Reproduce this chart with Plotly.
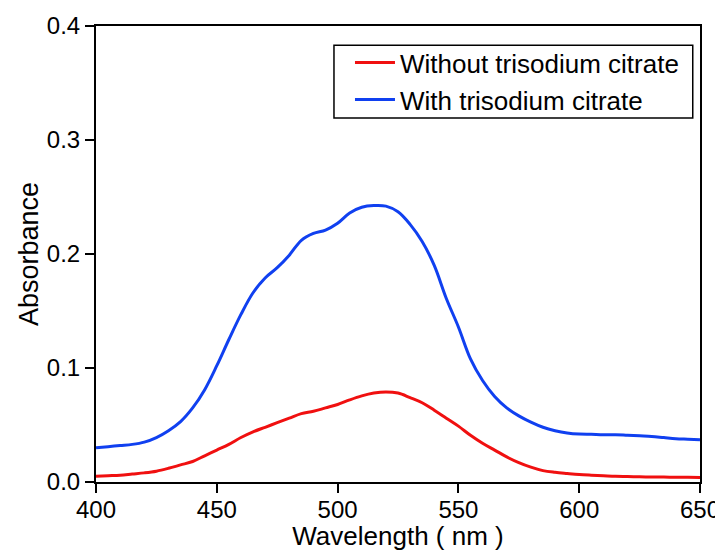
import plotly.graph_objects as go

wavelength = list(range(400, 651, 5))

without_citrate = [
    0.005, 0.0055, 0.006, 0.007, 0.008, 0.0095, 0.012, 0.015, 0.018, 0.023,
    0.028, 0.033, 0.039, 0.044, 0.048, 0.052, 0.056, 0.060, 0.062, 0.065,
    0.068, 0.072, 0.0755, 0.078, 0.079, 0.078, 0.074, 0.0695, 0.063, 0.056,
    0.049, 0.041, 0.034, 0.028, 0.022, 0.017, 0.013, 0.010, 0.0085, 0.0075,
    0.0066, 0.006, 0.0055, 0.005, 0.0048, 0.0046, 0.0044, 0.0043, 0.0042, 0.0041,
    0.004,
]

with_citrate = [
    0.030, 0.031, 0.032, 0.033, 0.035, 0.039, 0.045, 0.053, 0.065, 0.081,
    0.102, 0.125, 0.147, 0.166, 0.179, 0.188, 0.199, 0.212, 0.218, 0.221,
    0.227, 0.236, 0.241, 0.2425, 0.242, 0.237, 0.226, 0.211, 0.190, 0.161,
    0.136, 0.108, 0.089, 0.075, 0.065, 0.058, 0.0525, 0.048, 0.045, 0.043,
    0.042, 0.0418, 0.0415, 0.0415, 0.041, 0.0405, 0.040, 0.039, 0.038, 0.0375,
    0.037,
]

x_ticks = [400, 450, 500, 550, 600, 650]
y_ticks = [0.0, 0.1, 0.2, 0.3, 0.4]

font_family = "Liberation Sans, Arial, sans-serif"

fig = go.Figure()
fig.add_trace(go.Scatter(x=wavelength, y=without_citrate, mode="lines",
                         name="Without trisodium citrate",
                         line=dict(color="#f01010", width=3, shape="spline")))
fig.add_trace(go.Scatter(x=wavelength, y=with_citrate, mode="lines",
                         name="With trisodium citrate",
                         line=dict(color="#1040f0", width=3, shape="spline")))

axis_common = dict(showline=True, linecolor="black", linewidth=2, mirror=True,
                   ticks="outside", ticklen=9, tickwidth=2, tickcolor="black",
                   showgrid=False, zeroline=False, automargin=False,
                   tickfont=dict(family=font_family, size=24, color="black"))

fig.update_layout(
    width=715, height=543,
    margin=dict(l=88, r=23, t=18, b=69),
    paper_bgcolor="white", plot_bgcolor="white",
    font=dict(family=font_family, color="black"),
    xaxis=dict(range=[400, 650], tickvals=x_ticks, ticklabelstandoff=-4,
               title=dict(text="Wavelength ( nm )", font=dict(size=26), standoff=5),
               **axis_common),
    yaxis=dict(range=[0, 0.4], tickvals=y_ticks, tickformat=".1f",
               title=dict(text="Absorbance", font=dict(size=27), standoff=0),
               **axis_common),
    legend=dict(x=0.4205, y=0.971, xanchor="left", yanchor="top",
                borderwidth=0, bgcolor="rgba(0,0,0,0)",
                font=dict(family=font_family, size=26, color="black"),
                tracegroupgap=0, itemwidth=40),
    shapes=[dict(type="rect", xref="paper", yref="paper",
                 x0=0.394, x1=0.988, y0=0.798, y1=0.958,
                 line=dict(color="black", width=1.5), fillcolor="rgba(0,0,0,0)",
                 layer="above")],
    showlegend=True,
)

fig.write_html("out.html")
